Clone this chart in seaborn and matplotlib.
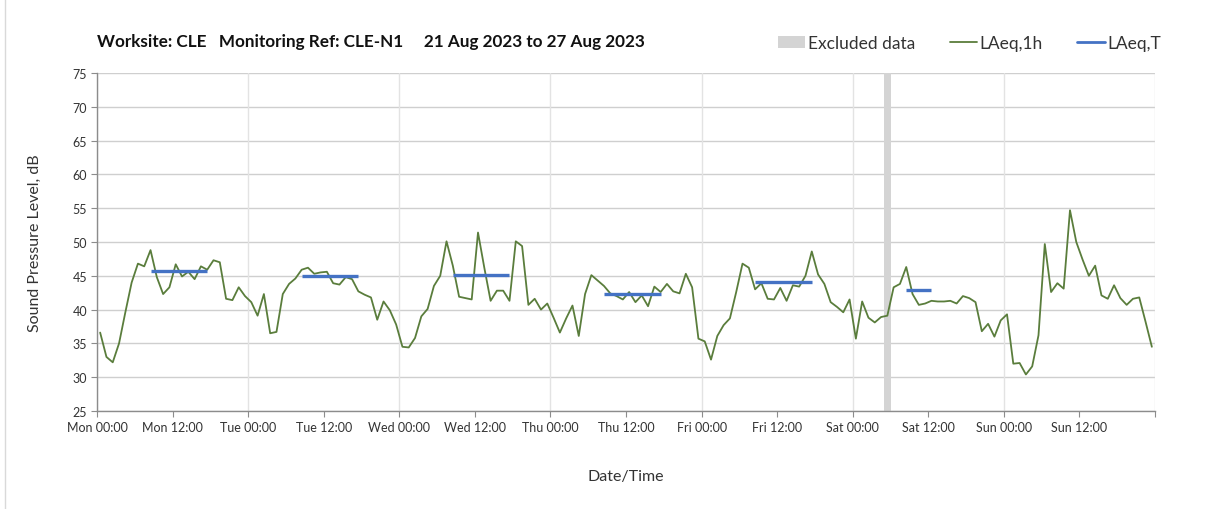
import numpy as np
import pandas as pd
import seaborn as sns
import matplotlib
matplotlib.use("Agg")
import matplotlib.pyplot as plt
from matplotlib.patches import Patch
from matplotlib.lines import Line2D

# ---------------- data ----------------
laeq_1h = [
    36.6, 33.0, 32.2, 35.0, 39.6, 44.0, 46.8, 46.4, 48.8, 44.8, 42.3, 43.3,
    46.7, 44.9, 45.6, 44.5, 46.4, 45.9, 47.3, 47.0, 41.6, 41.4, 43.3, 42.0,   # Mon
    41.1, 39.1, 42.3, 36.5, 36.7, 42.3, 43.8, 44.6, 45.9, 46.2, 45.3, 45.5,
    45.6, 43.9, 43.7, 44.8, 44.5, 42.7, 42.2, 41.8, 38.5, 41.2, 39.9, 37.8,   # Tue
    34.5, 34.4, 35.8, 39.0, 40.1, 43.5, 45.0, 50.1, 46.5, 41.9, 41.7, 41.5,
    51.4, 46.2, 41.3, 42.8, 42.8, 41.3, 50.1, 49.4, 40.7, 41.6, 40.0, 40.9,   # Wed
    38.8, 36.6, 38.7, 40.6, 36.1, 42.3, 45.1, 44.3, 43.5, 42.4, 42.0, 41.5,
    42.6, 41.1, 42.1, 40.5, 43.4, 42.6, 43.8, 42.7, 42.4, 45.3, 43.3, 35.7,   # Thu
    35.3, 32.6, 36.1, 37.7, 38.7, 42.6, 46.8, 46.2, 43.0, 43.9, 41.6, 41.5,
    43.2, 41.3, 43.6, 43.4, 45.0, 48.6, 45.2, 43.8, 41.1, 40.4, 39.6, 41.5,   # Fri
    35.7, 41.2, 38.8, 38.1, 38.9, 39.1, 43.3, 43.8, 46.3, 42.3, 40.7, 40.9,
    41.3, 41.2, 41.2, 41.3, 40.9, 42.0, 41.7, 41.1, 36.8, 37.9, 36.0, 38.4,   # Sat
    39.3, 32.0, 32.1, 30.4, 31.6, 36.2, 49.7, 42.6, 43.9, 43.1, 54.7, 50.0,
    47.4, 45.0, 46.5, 42.1, 41.6, 43.6, 41.7, 40.7, 41.6, 41.8, 38.2, 34.5,   # Sun
]
hours = np.arange(len(laeq_1h)) + 0.5

# LAeq,T periods (start hour index, end hour index, level)
period_start = [8, 32, 56, 80, 104, 128]
period_end = [17, 41, 65, 89, 113, 132]
period_level = [45.7, 45.0, 45.1, 42.3, 44.1, 42.9]

# excluded data window (hours from Mon 00:00)
excluded_start = [125]
excluded_end = [126]

tick_hours = [0, 12, 24, 36, 48, 60, 72, 84, 96, 108, 120, 132, 144, 156, 168]
tick_labels = ["Mon 00:00", "Mon 12:00", "Tue 00:00", "Tue 12:00", "Wed 00:00",
               "Wed 12:00", "Thu 00:00", "Thu 12:00", "Fri 00:00", "Fri 12:00",
               "Sat 00:00", "Sat 12:00", "Sun 00:00", "Sun 12:00", ""]
y_ticks = [25, 30, 35, 40, 45, 50, 55, 60, 65, 70, 75]

title = "Worksite: CLE   Monitoring Ref: CLE-N1     21 Aug 2023 to 27 Aug 2023"

# ---------------- style ----------------
sns.set_theme(style="white")
plt.rcParams["font.family"] = ["Lato", "DejaVu Sans"]

GREEN = "#5a7d3c"
BLUE = "#4472c4"
GREY_BAND = "#d4d4d4"

fig = plt.figure(figsize=(12.13, 5.10), dpi=100)
ax = fig.add_axes([97 / 1213, 1 - 412 / 510, (1155 - 97) / 1213, (412 - 74) / 510])

df = pd.DataFrame({"hour": hours, "LAeq": laeq_1h})

# grid lines
for yv in y_ticks:
    ax.axhline(yv, color="#cfcfcf", lw=1.0, zorder=0)
for xv in tick_hours[::2]:
    ax.axvline(xv, color="#e3e3e3", lw=1.0, zorder=0)

for s, e in zip(excluded_start, excluded_end):
    ax.axvspan(s, e, color=GREY_BAND, lw=0, zorder=1)

sns.lineplot(data=df, x="hour", y="LAeq", ax=ax, color=GREEN, lw=1.3,
             zorder=3, legend=False)

ax.hlines(period_level, np.array(period_start) + 0.5, np.array(period_end) + 0.5,
          color=BLUE, lw=2.4, zorder=4)

ax.set_xlim(0, 168)
ax.set_ylim(25, 75)
ax.set_xticks(tick_hours)
ax.set_xticklabels(tick_labels, fontsize=9, color="#333333")
ax.set_yticks(y_ticks)
ax.set_yticklabels([str(v) for v in y_ticks], fontsize=9, color="#333333")
ax.tick_params(axis="both", which="both", length=4, width=0.8, color="#8c8c8c",
               direction="out", bottom=True, left=True, pad=3)

for side in ["top", "right"]:
    ax.spines[side].set_visible(False)
for side in ["left", "bottom"]:
    ax.spines[side].set_color("#8c8c8c")
    ax.spines[side].set_linewidth(1.0)

ax.set_xlabel("Date/Time", fontsize=11.5, color="#333333", labelpad=26)
ax.set_ylabel("Sound Pressure Level, dB", fontsize=11.5, color="#333333", labelpad=22)

fig.text(97 / 1213, 1 - 42 / 510, title, fontsize=12.3, fontweight="bold",
         color="#111111", ha="left", va="center")

handles = [Patch(facecolor=GREY_BAND, edgecolor="none"),
           Line2D([0], [0], color=GREEN, lw=1.3),
           Line2D([0], [0], color=BLUE, lw=2.0)]
labels = ["Excluded data", "LAeq,1h", "LAeq,T"]
fig.legend(handles, labels, loc="center right", bbox_to_anchor=(0.970, 1 - 44 / 510),
           ncol=3, frameon=False, fontsize=12.5, handlelength=1.6,
           handletextpad=0.12, columnspacing=2.0, labelcolor="#333333")

# left frame edge of the chart area
fig.add_artist(Line2D([5 / 1213, 5 / 1213], [0, 1], color="#d9d9d9", lw=1.0))

fig.savefig("out.png", dpi=100)
